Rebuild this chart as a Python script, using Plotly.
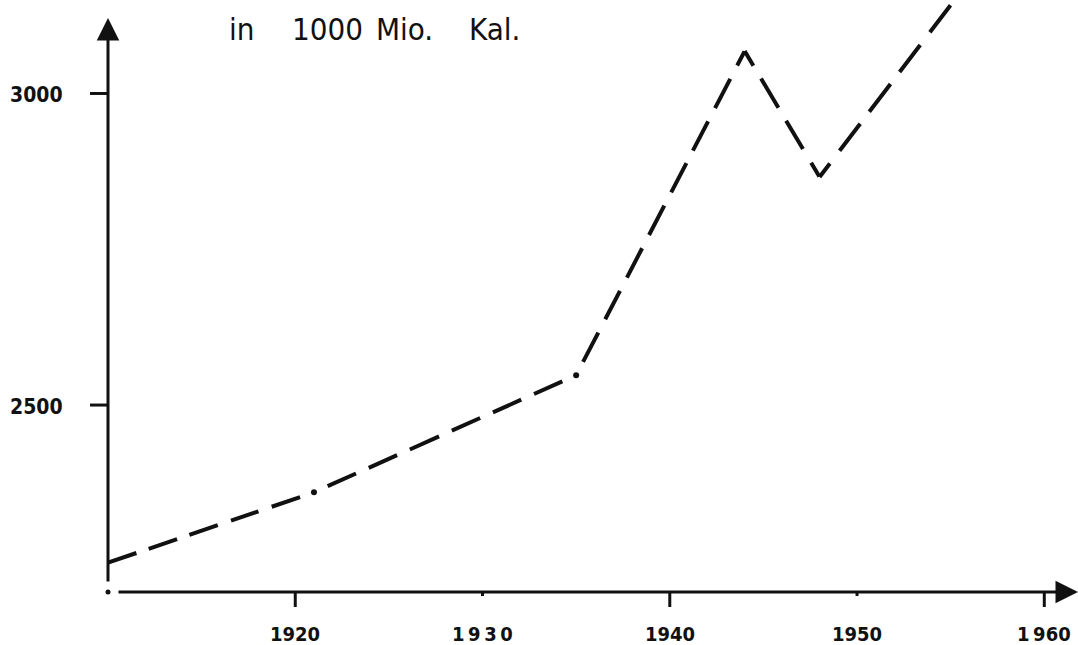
import math
import plotly.graph_objects as go

# ---- data ----
years = [1910, 1921, 1935, 1944, 1948, 1955]
values = [2247, 2360, 2548, 3068, 2866, 3142]
dot_marked = [False, True, True, False, False, False]

x_tick_vals = [1920, 1930, 1940, 1950, 1960]
x_tick_text = ["1920", "1\u20099\u20093\u20090", "1940", "1950", "1\u2009960"]
x_tick_major = [True, False, True, False, True]
y_tick_vals = [2500, 3000]
y_tick_text = ["2500", "3000"]

title_words = ["in", "1000", "Mio.", "Kal."]
title_word_px = [227, 290, 374, 467]

X_MIN, X_MAX = 1910, 1961.8
Y_MIN, Y_MAX = 2200, 3150
PLOT_L, PLOT_W, PLOT_H = 108, 970, 592

INK = "#111111"
LABEL_FONT = dict(family="DejaVu Sans Condensed, DejaVu Sans, sans-serif", size=20, color=INK)

DASH, GAP, DOT_GAP = 33.0, 15.0, 15.0
SX = PLOT_W / (X_MAX - X_MIN)
SY = PLOT_H / (Y_MAX - Y_MIN)


def vertex_kind(i):
    if dot_marked[i]:
        return "dot"
    if i == 0 or i == len(years) - 1:
        return "end"
    return "corner"


def tokens_for(start, end, n):
    seq = []
    if start == "dot":
        seq += [("z", 0), ("G", DOT_GAP)]
        nxt = "d"
    else:
        seq += [("d", DASH if start == "end" else DASH / 2)]
        nxt = "g"
    for _ in range(n):
        if nxt == "d":
            seq += [("d", DASH), ("g", GAP)]
        else:
            seq += [("g", GAP), ("d", DASH)]
    if end == "dot":
        if seq[-1][0] in ("g", "G"):
            seq += [("d", DASH)]
        seq += [("G", DOT_GAP)]
    else:
        if seq[-1][0] in ("d", "z"):
            seq += [("g", GAP)]
        seq += [("d", DASH if end == "end" else DASH / 2)]
    return seq


def dash_string(length, start, end):
    best = None
    for n in range(0, 60):
        seq = tokens_for(start, end, n)
        fixed = sum(v for k, v in seq if k in ("G", "z"))
        var = sum(v for k, v in seq if k in ("d", "g"))
        if var <= 0:
            continue
        s = (length - fixed) / var
        if s <= 0:
            continue
        if best is None or abs(math.log(s)) < abs(math.log(best[0])):
            best = (s, seq)
    s, seq = best
    vals = [v * s if k in ("d", "g") else v for k, v in seq]
    out, acc, prev = [], 0.0, 0
    for v in vals:
        acc += v
        r = int(round(acc))
        out.append(max(r - prev, 0))
        prev = r
    out.append(1000)  # trailing gap so the pattern never repeats
    if len(out) % 2 == 1:
        out.append(0)
    return ",".join(f"{v}px" for v in out)


fig = go.Figure()

# data line, drawn segment by segment so dashes sit on the vertices
for i in range(len(years) - 1):
    lx = (years[i + 1] - years[i]) * SX
    ly = (values[i + 1] - values[i]) * SY
    seg_len = math.hypot(lx, ly)
    fig.add_trace(go.Scatter(
        x=years[i:i + 2], y=values[i:i + 2], mode="lines",
        line=dict(color=INK, width=4,
                  dash=dash_string(seg_len, vertex_kind(i), vertex_kind(i + 1))),
        hoverinfo="skip", showlegend=False, cliponaxis=False,
    ))

# dots of the dash-dot line
dx = [x for x, m in zip(years, dot_marked) if m]
dy = [y for y, m in zip(values, dot_marked) if m]
fig.add_trace(go.Scatter(x=dx, y=dy, mode="markers",
                         marker=dict(color=INK, size=6, line=dict(width=0)),
                         hoverinfo="skip", showlegend=False))

# origin dot
fig.add_trace(go.Scatter(x=[X_MIN], y=[Y_MIN], mode="markers",
                         marker=dict(color=INK, size=5, line=dict(width=0)),
                         hoverinfo="skip", showlegend=False, cliponaxis=False))

shapes = []
annotations = []

# y axis with arrow
annotations.append(dict(x=X_MIN, y=Y_MAX - 18 / SY, ax=X_MIN, ay=Y_MIN + 9 / SY,
                        xref="x", yref="y", axref="x", ayref="y", text="",
                        showarrow=True, arrowhead=2, arrowsize=1.5, arrowwidth=3,
                        arrowcolor=INK))
# x axis with arrow
annotations.append(dict(x=X_MAX, y=Y_MIN, ax=X_MIN + 9 / SX, ay=Y_MIN,
                        xref="x", yref="y", axref="x", ayref="y", text="",
                        showarrow=True, arrowhead=2, arrowsize=1.5, arrowwidth=3,
                        arrowcolor=INK))

# x ticks + labels
for v, t, major in zip(x_tick_vals, x_tick_text, x_tick_major):
    shapes.append(dict(type="line", xref="x", yref="paper", x0=v, x1=v,
                       y0=0, y1=-(15 if major else 4) / PLOT_H,
                       line=dict(color=INK, width=3)))
    annotations.append(dict(x=v, y=Y_MIN, xref="x", yref="y", text=t, showarrow=False,
                            xanchor="center", yanchor="middle", yshift=-42,
                            font=dict(LABEL_FONT, weight="bold")))

# y ticks + labels
for v, t in zip(y_tick_vals, y_tick_text):
    shapes.append(dict(type="line", xref="paper", yref="y", y0=v, y1=v,
                       x0=-18 / PLOT_W, x1=0,
                       line=dict(color=INK, width=3)))
    annotations.append(dict(x=X_MIN, y=v, xref="x", yref="y", text=t, showarrow=False,
                            xanchor="right", yanchor="middle", xshift=-43, yshift=-2,
                            font=dict(LABEL_FONT, size=21, weight="bold")))

# unit title, word by word
for w, px in zip(title_words, title_word_px):
    annotations.append(dict(x=(px - PLOT_L) / PLOT_W, y=1 - 29 / PLOT_H,
                            xref="paper", yref="paper", text=w, showarrow=False,
                            xanchor="left", yanchor="middle",
                            font=dict(family="DejaVu Sans Condensed, DejaVu Sans, sans-serif",
                                      size=31, color=INK)))

fig.update_layout(
    width=1078, height=645,
    margin=dict(l=PLOT_L, r=0, t=0, b=645 - PLOT_H),
    paper_bgcolor="white", plot_bgcolor="white",
    xaxis=dict(range=[X_MIN, X_MAX], visible=False, fixedrange=True),
    yaxis=dict(range=[Y_MIN, Y_MAX], visible=False, fixedrange=True),
    shapes=shapes, annotations=annotations,
    showlegend=False,
)

fig.write_html("out.html", config={"displayModeBar": False},
               post_script="document.body.style.margin='0px';document.body.style.overflow='hidden';")
